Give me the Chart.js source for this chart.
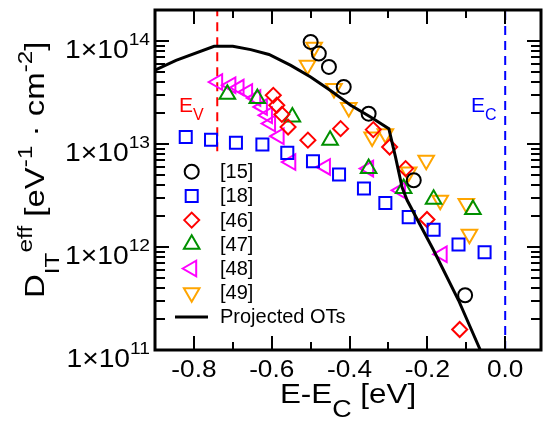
<!DOCTYPE html>
<html>
<head>
<meta charset="utf-8">
<script src="https://cdn.jsdelivr.net/npm/chart.js@4.4.1/dist/chart.umd.min.js"></script>
<style>
  html, body { margin: 0; padding: 0; background: #fff; }
</style>
</head>
<body>
<canvas id="ditChart" width="543" height="422"></canvas>
<script>
const FONT = '"Liberation Sans", Arial, Helvetica, sans-serif'

// projected OTs curve
const otX = [-0.9, -0.846, -0.748, -0.70, -0.654, -0.607, -0.551, -0.50, -0.449, -0.397, -0.346, -0.299, -0.282, -0.265, -0.252, -0.184, -0.120, -0.064]
const otY = [5.2e13, 6.5e13, 8.9e13, 8.9e13, 8.25e13, 7.4e13, 5.8e13, 4.47e13, 3.3e13, 2.38e13, 1.83e13, 1.41e13, 7.5e12, 3.8e12, 2.84e12, 9.3e11, 3.04e11, 1e11]

// literature data
const ref15X = [-0.5, -0.479, -0.453, -0.415, -0.351, -0.235, -0.103]
const ref15Y = [9.8e13, 7.55e13, 5.6e13, 3.58e13, 1.97e13, 4.45e12, 3.4e11]
const ref18X = [-0.821, -0.756, -0.692, -0.624, -0.56, -0.494, -0.427, -0.363, -0.308, -0.248, -0.184, -0.12, -0.053]
const ref18Y = [1.17e13, 1.1e13, 1.03e13, 9.9e12, 8.2e12, 6.8e12, 5.05e12, 3.7e12, 2.67e12, 1.95e12, 1.47e12, 1.06e12, 8.9e11]
const ref46X = [-0.596, -0.587, -0.574, -0.558, -0.507, -0.423, -0.339, -0.297, -0.256, -0.201, -0.117]
const ref46Y = [2.97e13, 2.38e13, 1.94e13, 1.46e13, 1.09e13, 1.41e13, 1.38e13, 9.35e12, 5.77e12, 1.85e12, 1.58e11]
const ref47X = [-0.714, -0.637, -0.547, -0.45, -0.351, -0.261, -0.184, -0.083]
const ref47Y = [3.04e13, 2.76e13, 1.83e13, 1.09e13, 5.77e12, 3.69e12, 2.91e12, 2.31e12]
const ref48X = [-0.739, -0.705, -0.684, -0.662, -0.641, -0.624, -0.611, -0.603, -0.581, -0.551, -0.462, -0.351, -0.269, -0.162]
const ref48Y = [4.0e13, 3.72e13, 3.53e13, 3.2e13, 2.8e13, 2.29e13, 1.9e13, 1.58e13, 1.19e13, 6.68e12, 5.99e12, 5.77e12, 3.55e12, 8.5e11]
const ref49X = [-0.491, -0.508, -0.44, -0.402, -0.342, -0.308, -0.248, -0.203, -0.167, -0.1, -0.092]
const ref49Y = [8.7e13, 5.8e13, 3.45e13, 2.26e13, 1.17e13, 1.26e13, 5.36e12, 6.95e12, 2.84e12, 2.64e12, 1.33e12]

// band edges
const evX = -0.74
const evY = [8.5e12, 2e14]
const ecX = 0.0
const ecY = [1e11, 2e14]

// axes
const xMajor = [-0.8, -0.6, -0.4, -0.2, 0.0]
const xMinor = [-0.7, -0.5, -0.3, -0.1]
const yMajor = [1e11, 1e12, 1e13, 1e14]
const yExp = ['11', '12', '13', '14']

const pts = (xs, ys) => xs.map((x, i) => ({ x: x, y: ys[i] }))

const series = [
    { label: '[15]', x: ref15X, y: ref15Y, color: '#000000', style: 'circle', radius: 7, rotation: 0 },
    { label: '[18]', x: ref18X, y: ref18Y, color: '#0000ff', style: 'rect', radius: 8.5, rotation: 0 },
    { label: '[46]', x: ref46X, y: ref46Y, color: '#ff0000', style: 'rectRot', radius: 7.5, rotation: 0 },
    { label: '[47]', x: ref47X, y: ref47Y, color: '#009000', style: 'triangle', radius: 9, rotation: 0 },
    { label: '[48]', x: ref48X, y: ref48Y, color: '#ff00ff', style: 'triangle', radius: 9, rotation: -90 },
    { label: '[49]', x: ref49X, y: ref49Y, color: '#ffa500', style: 'triangle', radius: 9, rotation: 180 },
]

const datasets = series.map((s, i) => ({
    label: s.label,
    data: pts(s.x, s.y),
    showLine: false,
    pointStyle: s.style,
    pointRadius: s.radius,
    pointRotation: s.rotation,
    pointBorderWidth: 2,
    borderColor: s.color,
    pointBorderColor: s.color,
    pointBackgroundColor: 'rgba(0,0,0,0)',
    order: 10 + i
}))

datasets.push({
    label: 'Projected OTs',
    data: pts(otX, otY),
    showLine: true,
    borderColor: '#000000',
    borderWidth: 3,
    pointRadius: 0,
    tension: 0,
    order: 1
})
datasets.push({
    label: 'Ev',
    data: [{ x: evX, y: evY[0] }, { x: evX, y: evY[1] }],
    showLine: true, borderColor: '#ff0000', borderWidth: 2, borderDash: [9, 6], pointRadius: 0, order: 30
})
datasets.push({
    label: 'Ec',
    data: [{ x: ecX, y: ecY[0] }, { x: ecX, y: ecY[1] }],
    showLine: true, borderColor: '#0000ff', borderWidth: 2, borderDash: [9, 6], pointRadius: 0, order: 30
})

// text with sub/superscripts, stretched horizontally by sx
function richText(ctx, parts, x, y, align, color, sx) {
    ctx.save()
    ctx.fillStyle = color
    ctx.textBaseline = 'alphabetic'
    ctx.textAlign = 'left'
    let total = 0
    parts.forEach(p => { ctx.font = p.size + 'px ' + FONT; p.w = ctx.measureText(p.t).width * sx; total += p.w })
    let cx = x
    if (align === 'right') cx = x - total
    if (align === 'center') cx = x - total / 2
    parts.forEach(p => {
        ctx.font = p.size + 'px ' + FONT
        ctx.save()
        ctx.translate(cx, y + (p.dy || 0))
        ctx.scale(sx, 1)
        ctx.fillText(p.t, 0, 0)
        ctx.restore()
        cx += p.w
    })
    ctx.restore()
}

const decorations = {
    id: 'decorations',
    afterDatasetsDraw(chart) {
        const ctx = chart.ctx
        const area = chart.chartArea
        const xs = chart.scales.x
        const ys = chart.scales.y

        // ticks (inward, all four sides)
        ctx.save()
        ctx.strokeStyle = '#000'
        ctx.lineWidth = 2
        ctx.beginPath()
        xMajor.concat(xMinor).forEach(v => {
            const len = xMajor.includes(v) ? 14 : 8
            const px = Math.round(xs.getPixelForValue(v))
            ctx.moveTo(px, area.bottom); ctx.lineTo(px, area.bottom - len)
            ctx.moveTo(px, area.top); ctx.lineTo(px, area.top + len)
        })
        for (let d = 11; d <= 14; d++) {
            for (let m = 1; m <= 9; m++) {
                const v = m * Math.pow(10, d)
                if (v > ys.max) continue
                const len = m === 1 ? 14 : 10
                const py = Math.round(ys.getPixelForValue(v))
                ctx.moveTo(area.left, py); ctx.lineTo(area.left + len, py)
                ctx.moveTo(area.right, py); ctx.lineTo(area.right - len, py)
            }
        }
        ctx.stroke()
        ctx.lineWidth = 3
        ctx.strokeRect(area.left, area.top, area.right - area.left, area.bottom - area.top)
        ctx.restore()

        // tick labels
        yMajor.forEach((v, i) => {
            const py = ys.getPixelForValue(v)
            richText(ctx, [{ t: '1×10', size: 25 }, { t: yExp[i], size: 17, dy: -13 }], 150, py + 16.5, 'right', '#000', 1.13)
        })
        xMajor.forEach(v => {
            const px = xs.getPixelForValue(v)
            richText(ctx, [{ t: v.toFixed(1), size: 23 }], px, 377, 'center', '#000', 1.14)
        })

        // axis titles
        richText(ctx, [{ t: 'E-E', size: 28 }, { t: 'C', size: 24, dy: 14 }, { t: ' [eV]', size: 28 }],
            (area.left + area.right) / 2, 403, 'center', '#000', 1.12)
        ctx.save()
        ctx.translate(44, 298)
        ctx.rotate(-Math.PI / 2)
        richText(ctx, [
            { t: 'D', size: 27 }, { t: 'IT', size: 20, dy: 15 }, { t: 'eff', size: 20, dy: -12 },
            { t: ' [eV', size: 27 }, { t: '-1', size: 20, dy: -12 }, { t: ' · cm', size: 27 },
            { t: '-2', size: 20, dy: -12 }, { t: ']', size: 27 }
        ], 0, 0, 'left', '#000', 1.22)
        ctx.restore()

        // band edge labels
        richText(ctx, [{ t: 'E', size: 21 }, { t: 'V', size: 16, dy: 8 }], 179, 112, 'left', '#ff0000', 1.0)
        richText(ctx, [{ t: 'E', size: 21 }, { t: 'C', size: 16, dy: 8 }], 471, 112, 'left', '#0000ff', 1.0)

        // legend
        const lx = 191.7, ly = 171.7, step = 24.2
        series.forEach((s, i) => {
            const y = ly + i * step
            ctx.save()
            ctx.strokeStyle = s.color
            ctx.fillStyle = 'rgba(0,0,0,0)'
            ctx.lineWidth = 2
            Chart.helpers.drawPoint(ctx, { pointStyle: s.style, radius: s.radius, rotation: s.rotation, borderWidth: 2 }, lx, y)
            ctx.restore()
            ctx.save()
            ctx.fillStyle = '#000'
            ctx.font = '20px ' + FONT
            ctx.textBaseline = 'middle'
            ctx.fillText(s.label, 220, y + 1)
            ctx.restore()
        })
        const yl = ly + series.length * step
        ctx.save()
        ctx.strokeStyle = '#000'
        ctx.lineWidth = 3
        ctx.beginPath(); ctx.moveTo(175, yl); ctx.lineTo(208, yl); ctx.stroke()
        ctx.fillStyle = '#000'
        ctx.font = '20px ' + FONT
        ctx.textBaseline = 'middle'
        ctx.fillText('Projected OTs', 220, yl + 1)
        ctx.restore()
    }
}

const ctx = document.getElementById('ditChart').getContext('2d')
const ditChart = new Chart(ctx, {
    type: 'scatter',
    data: { datasets: datasets },
    options: {
        responsive: false,
        animation: false,
        devicePixelRatio: 1,
        layout: { autoPadding: false, padding: { top: 10, right: 2, left: 0, bottom: 0 } },
        scales: {
            x: {
                type: 'linear', min: -0.9, max: 0.092,
                grid: { display: false }, border: { display: false },
                ticks: { display: false },
                afterFit: s => { s.height = 72 }
            },
            y: {
                type: 'logarithmic', min: 1e11, max: 2e14,
                grid: { display: false }, border: { display: false },
                ticks: { display: false },
                afterFit: s => { s.width = 155 }
            }
        },
        plugins: {
            legend: { display: false },
            tooltip: { enabled: false }
        }
    },
    plugins: [decorations]
})
</script>
</body>
</html>
